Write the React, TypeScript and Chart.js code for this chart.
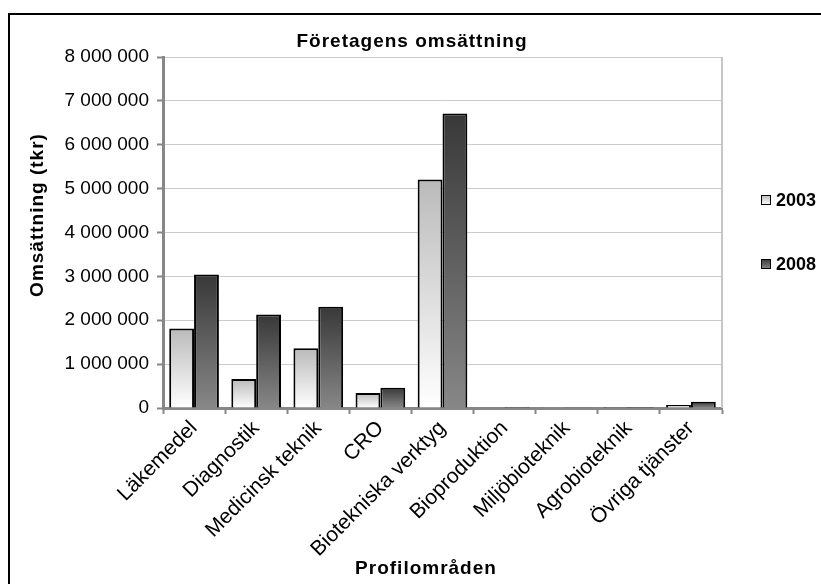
import React, { useEffect, useRef } from "react";
import { Chart, registerables } from "chart.js";

Chart.register(...registerables);

// Profile areas on the x axis
const categories = [
  "Läkemedel",
  "Diagnostik",
  "Medicinsk teknik",
  "CRO",
  "Biotekniska verktyg",
  "Bioproduktion",
  "Miljöbioteknik",
  "Agrobioteknik",
  "Övriga tjänster",
];

// Turnover in thousand SEK
const values2003 = [1810000, 660000, 1360000, 340000, 5210000, 10000, 3000, 2000, 70000];
const values2008 = [3040000, 2130000, 2310000, 460000, 6710000, 25000, 5000, 20000, 140000];

const yTicks = [0, 1000000, 2000000, 3000000, 4000000, 5000000, 6000000, 7000000, 8000000];

const seriesLabels = ["2003", "2008"];

const chartTitle = "Företagens omsättning";
const xTitle = "Profilområden";
const yTitle = "Omsättning (tkr)";

const W = 821;
const H = 584;
const PLOT_LEFT = 163;
const PLOT_RIGHT = 722;
const PLOT_TOP = 57;
const PLOT_BOTTOM = 408;
const PAD_LEFT = 8;

const FONT = "'Liberation Sans', Arial, sans-serif";

const GRAD_2003: [string, string] = ["#bababa", "#ffffff"];
const GRAD_2008: [string, string] = ["#383838", "#878787"];

const formatNumber = (v: number) =>
  String(Math.round(v)).replace(/\B(?=(\d{3})+(?!\d))/g, " ");

function barFill(stops: [string, string]) {
  return (c: any) => {
    const chart = c.chart;
    const y = chart.scales && chart.scales.y;
    if (!y || c.type !== "data" || typeof c.raw !== "number") return stops[1];
    const yTop = y.getPixelForValue(c.raw);
    const yBase = y.getPixelForValue(0);
    if (!isFinite(yTop) || !isFinite(yBase) || yBase - yTop < 1) return stops[0];
    const g = chart.ctx.createLinearGradient(0, yTop, 0, yBase);
    g.addColorStop(0, stops[0]);
    g.addColorStop(1, stops[1]);
    return g;
  };
}

// Frame, titles, plot-area edge and legend
const decorations = {
  id: "decorations",
  beforeDraw(chart: any) {
    const ctx = chart.ctx;
    ctx.save();
    ctx.fillStyle = "#ffffff";
    ctx.fillRect(0, 0, W, H);
    ctx.restore();
  },
  afterDraw(chart: any) {
    const ctx = chart.ctx;
    const area = chart.chartArea;
    ctx.save();

    // outer frame (top and left edges visible)
    ctx.strokeStyle = "#000000";
    ctx.lineWidth = 2;
    ctx.beginPath();
    ctx.moveTo(9, H + 2);
    ctx.lineTo(9, 14);
    ctx.lineTo(W + 2, 14);
    ctx.stroke();

    // right edge of plot area
    ctx.strokeStyle = "#c6c6c6";
    ctx.lineWidth = 2;
    ctx.beginPath();
    ctx.moveTo(area.right, area.top);
    ctx.lineTo(area.right, area.bottom);
    ctx.stroke();

    ctx.fillStyle = "#000000";
    ctx.textAlign = "center";
    ctx.textBaseline = "middle";
    (ctx as any).letterSpacing = "1px";

    ctx.font = `bold 19px ${FONT}`;
    ctx.fillText(chartTitle, 412, 42);
    ctx.fillText(xTitle, 426, 569);

    ctx.save();
    ctx.translate(38, 215);
    ctx.rotate(-Math.PI / 2);
    ctx.fillText(yTitle, 0, 0);
    ctx.restore();

    // legend
    (ctx as any).letterSpacing = "0px";
    ctx.font = `bold 18px ${FONT}`;
    ctx.textAlign = "left";
    const entries: [string, [string, string], number][] = [
      [seriesLabels[0], GRAD_2003, 200],
      [seriesLabels[1], GRAD_2008, 264],
    ];
    for (const [label, stops, cy] of entries) {
      const g = ctx.createLinearGradient(0, cy - 5, 0, cy + 5);
      g.addColorStop(0, stops[0]);
      g.addColorStop(1, stops[1]);
      ctx.fillStyle = g;
      ctx.fillRect(761.5, cy - 4.5, 9, 9);
      ctx.strokeStyle = "#000000";
      ctx.lineWidth = 1;
      ctx.strokeRect(761.5, cy - 4.5, 9, 9);
      ctx.fillStyle = "#000000";
      ctx.fillText(label, 776, cy + 1);
    }
    ctx.restore();
  },
};

export default function App() {
  const canvasRef = useRef<HTMLCanvasElement | null>(null);

  useEffect(() => {
    const canvas = canvasRef.current;
    if (!canvas) return;
    const chart = new Chart(canvas, {
      type: "bar",
      data: {
        labels: categories,
        datasets: [
          {
            label: seriesLabels[0],
            data: values2003,
            backgroundColor: barFill(GRAD_2003),
            borderColor: "#000000",
            borderWidth: 2,
            categoryPercentage: 0.8,
            barPercentage: 1,
          },
          {
            label: seriesLabels[1],
            data: values2008,
            backgroundColor: barFill(GRAD_2008),
            borderColor: "#000000",
            borderWidth: 2,
            categoryPercentage: 0.8,
            barPercentage: 1,
          },
        ],
      },
      options: {
        responsive: false,
        animation: false,
        devicePixelRatio: 1,
        layout: {
          padding: { left: PAD_LEFT, top: PLOT_TOP, right: W - PLOT_RIGHT, bottom: 0 },
        },
        plugins: {
          legend: { display: false },
          title: { display: false },
          tooltip: { enabled: false },
        },
        scales: {
          x: {
            offset: true,
            grid: {
              offset: true,
              drawOnChartArea: false,
              drawTicks: true,
              tickLength: 6,
              tickColor: "#878787",
              tickWidth: 2,
            },
            border: { color: "#878787", width: 3 },
            ticks: {
              autoSkip: false,
              minRotation: 45,
              maxRotation: 45,
              padding: 2,
              color: "#000000",
              font: { family: FONT, size: 21 },
            },
            afterFit(scale: any) {
              scale.height = H - PLOT_BOTTOM;
            },
          },
          y: {
            min: 0,
            max: 8000000,
            afterBuildTicks(scale: any) {
              scale.ticks = yTicks.map((v) => ({ value: v }));
            },
            grid: {
              color: "#cccccc",
              lineWidth: 1,
              drawTicks: true,
              tickLength: 6,
              tickColor: "#878787",
              tickWidth: 2,
            },
            border: { color: "#878787", width: 3 },
            ticks: {
              padding: 8,
              color: "#000000",
              font: { family: FONT, size: 19 },
              callback: (v: any) => formatNumber(Number(v)),
            },
            afterFit(scale: any) {
              scale.width = PLOT_LEFT - PAD_LEFT;
            },
          },
        },
      },
      plugins: [decorations],
    });
    return () => chart.destroy();
  }, []);

  return (
    <div style={{ position: "fixed", left: 0, top: 0, width: W, height: H, overflow: "hidden", background: "#fff" }}>
      <canvas ref={canvasRef} width={W} height={H} style={{ width: W, height: H, display: "block" }} />
    </div>
  );
}
